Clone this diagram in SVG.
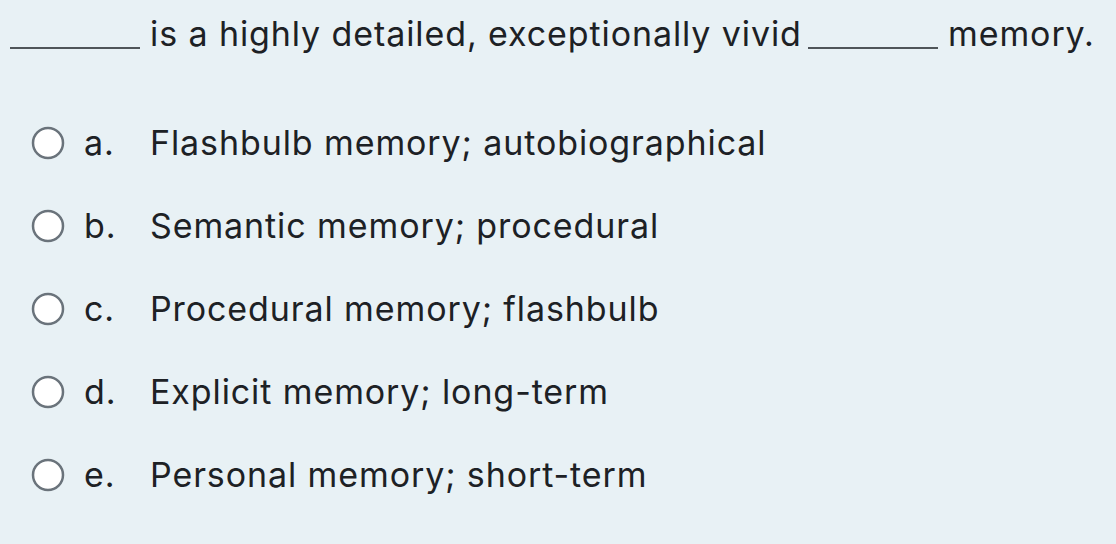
<svg xmlns="http://www.w3.org/2000/svg" width="1116" height="544" viewBox="0 0 1116 544">
<style>
text{font-family:Inter,"Noto Sans",sans-serif;font-size:34px;letter-spacing:0.9px;fill:#1d2125}
.r{fill:#fff;stroke:#6a737b;stroke-width:2.5}
.u{stroke:#1d2125;stroke-width:1.5}
</style>
<rect width="1116" height="544" fill="#e8f1f5"/>
<g id="question">
<line class="u" x1="10" y1="48" x2="140" y2="48"/>
<text x="150" y="46">is a highly detailed, exceptionally vivid</text>
<line class="u" x1="808" y1="48" x2="938" y2="48"/>
<text x="948" y="46">memory.</text>
</g>
<g id="opt-a"><circle class="r" cx="48" cy="143" r="15"/><text x="84" y="155">a.</text><text x="150" y="155">Flashbulb memory; autobiographical</text></g>
<g id="opt-b"><circle class="r" cx="48" cy="226" r="15"/><text x="84" y="238">b.</text><text x="150" y="238">Semantic memory; procedural</text></g>
<g id="opt-c"><circle class="r" cx="48" cy="309" r="15"/><text x="84" y="321">c.</text><text x="150" y="321">Procedural memory; flashbulb</text></g>
<g id="opt-d"><circle class="r" cx="48" cy="392" r="15"/><text x="84" y="404">d.</text><text x="150" y="404">Explicit memory; long-term</text></g>
<g id="opt-e"><circle class="r" cx="48" cy="475" r="15"/><text x="84" y="487">e.</text><text x="150" y="487">Personal memory; short-term</text></g>
</svg>
